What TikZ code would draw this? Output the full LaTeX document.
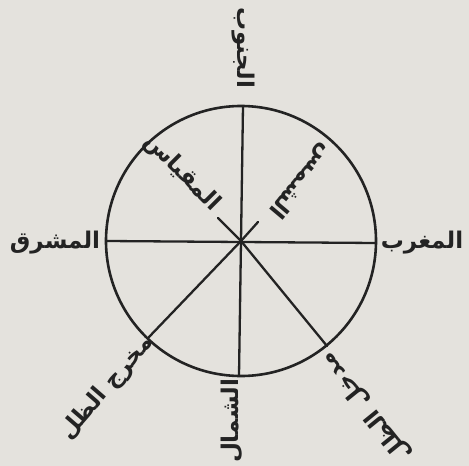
\documentclass[tikz,border=0pt]{standalone}
\usepackage{fontspec}
\newfontfamily\arabicfont[Script=Arabic]{DejaVu Sans}
\TeXXeTstate=1
\definecolor{paper}{RGB}{228,226,221}
\definecolor{ink}{RGB}{35,35,35}
\begin{document}
\begin{tikzpicture}[x=1pt,y=-1pt,
  lbl/.style={text=ink,font=\arabicfont\bfseries\fontsize{23}{28}\selectfont,inner sep=0pt},
  ln/.style={draw=ink,line width=2.3pt,line cap=round}]
\fill[paper] (0,0) rectangle (469,466);
\useasboundingbox (0,0) rectangle (469,466);
\coordinate (c) at (241,241);
\node[circle,minimum size=270pt,draw=ink,line width=2.6pt,inner sep=0pt] (circ) at (c) {};
\coordinate (top) at (243,106);
\coordinate (bot) at (239,376);
\coordinate (lft) at (107,241);
\coordinate (rgt) at (376,243);
\coordinate (ll) at (149,337);
\coordinate (lr) at (327,346);
\coordinate (ul) at (218,218);
\coordinate (ur) at (258,222);
\draw[ln] (top) -- (bot);
\draw[ln] (lft) -- (rgt);
\draw[ln] (c) -- (ll);
\draw[ln] (c) -- (lr);
\draw[ln] (c) -- (ul);
\draw[ln] (c) -- (ur);
\node[lbl,rotate=-90] (south) at (243,48) {\beginR الجنوب\endR};
\node[lbl,rotate=90] (north) at (232,421) {\beginR الشمال\endR};
\node[lbl] (east) at (55,243) {\beginR المشرق\endR};
\node[lbl] (west) at (422,243) {\beginR المغرب\endR};
\node[lbl,rotate=-45] (gnomon) at (182,173) {\beginR المقياس\endR};
\node[lbl,rotate=-130] (sun) at (301,181) {\beginR الشمس\endR};
\node[lbl,rotate=49] (exit) at (107,388) {\beginR مخرج الظل\endR};
\node[lbl,rotate=129] (entry) at (366,407) {\beginR مدخل الظل\endR};
\end{tikzpicture}
\end{document}
